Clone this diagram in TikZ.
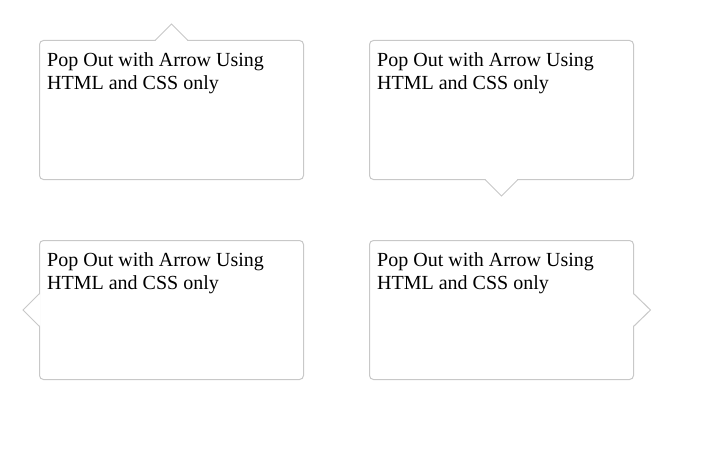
\documentclass[tikz,border=0pt]{standalone}
\usepackage{fontspec}
\setmainfont{Liberation Serif}
\definecolor{bordergray}{RGB}{200,200,200}
\tikzset{
  popbox/.style={draw=bordergray, fill=white, line width=1pt, rounded corners=4pt},
  poparrow/.style={draw=bordergray, fill=white, line width=1pt, line join=miter},
  poptext/.style={anchor=base west, inner sep=0pt, align=left, font=\fontsize{20}{23}\selectfont, text=black}
}
\begin{document}
\begin{tikzpicture}[x=1pt,y=-1pt]
\useasboundingbox (0,0) rectangle (706,460);
% top-left: arrow on top
\draw[popbox] (39.5,40.5) rectangle (303.5,179.5);
\fill[white] (155,41.5) -- (171.5,24) -- (188,41.5) -- cycle;
\draw[poparrow, fill=none] (155,40.5) coordinate (a1) -- (171.5,24) coordinate (t1) -- (188,40.5) coordinate (b1);
\node[poptext] (txt1) at (47,89.5) {Pop Out with Arrow Using\\HTML and CSS only};
% top-right: arrow at bottom
\draw[popbox] (369.5,40.5) rectangle (633.5,179.5);
\fill[white] (485,178.5) -- (501.5,196) -- (518,178.5) -- cycle;
\draw[poparrow, fill=none] (485,179.5) coordinate (a2) -- (501.5,196) coordinate (t2) -- (518,179.5) coordinate (b2);
\node[poptext] (txt2) at (377,89.5) {Pop Out with Arrow Using\\HTML and CSS only};
% bottom-left: arrow on left
\draw[popbox] (39.5,240.5) rectangle (303.5,379.5);
\fill[white] (40.5,293.5) -- (23,310) -- (40.5,326.5) -- cycle;
\draw[poparrow, fill=none] (39.5,293.5) coordinate (a3) -- (23,310) coordinate (t3) -- (39.5,326.5) coordinate (b3);
\node[poptext] (txt3) at (47,289.5) {Pop Out with Arrow Using\\HTML and CSS only};
% bottom-right: arrow on right
\draw[popbox] (369.5,240.5) rectangle (633.5,379.5);
\fill[white] (632.5,293.5) -- (650.5,310) -- (632.5,326.5) -- cycle;
\draw[poparrow, fill=none] (633.5,293.5) coordinate (a4) -- (650.5,310) coordinate (t4) -- (633.5,326.5) coordinate (b4);
\node[poptext] (txt4) at (377,289.5) {Pop Out with Arrow Using\\HTML and CSS only};
\end{tikzpicture}
\end{document}
